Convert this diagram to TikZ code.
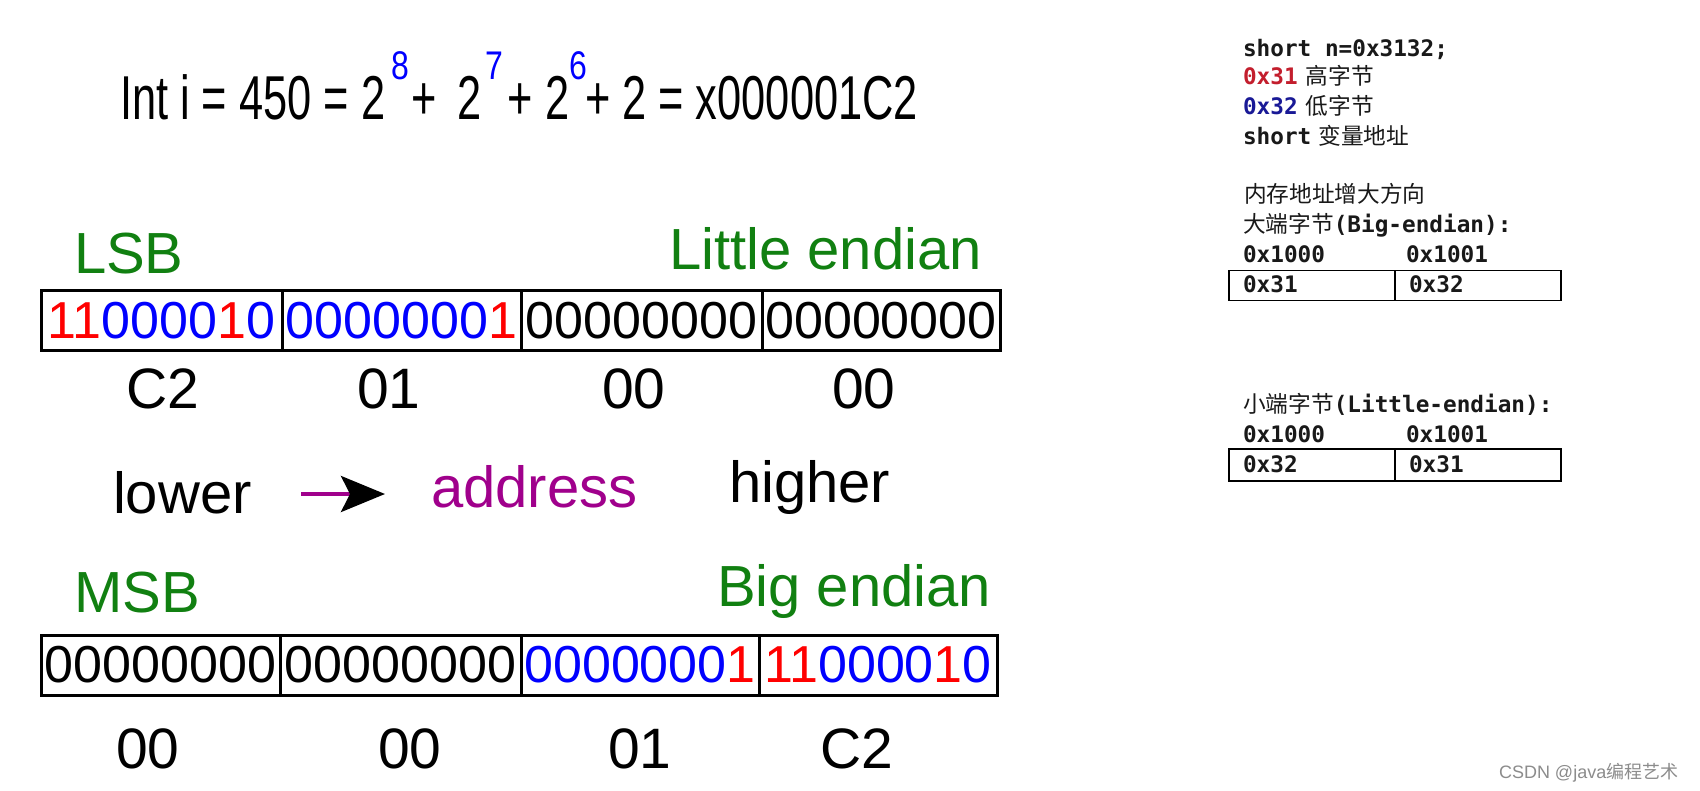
\documentclass[tikz,border=0pt]{standalone}
\usepackage{fontspec}
\usepackage{graphicx}
\setmainfont{Liberation Sans}
\newfontfamily\mono{DejaVu Sans Mono}
\newfontfamily\cjk{Noto Sans CJK SC}
\usetikzlibrary{arrows.meta}
\definecolor{grn}{RGB}{17,128,17}
\definecolor{pur}{RGB}{160,0,140}
\definecolor{rd}{RGB}{255,0,0}
\definecolor{bl}{RGB}{0,0,255}
\definecolor{dred}{RGB}{195,30,45}
\definecolor{dblue}{RGB}{25,25,150}
\newcommand\sx[2]{\scalebox{#1}[1]{#2}}
\tikzset{
  txt/.style={inner sep=0pt, outer sep=0pt, anchor=base west},
  ttl/.style={txt, font=\fontsize{62}{66}\selectfont},
  sup/.style={txt, font=\fontsize{40}{44}\selectfont, text=bl},
  big/.style={txt, font=\fontsize{58}{62}\selectfont},
  lab/.style={txt, font=\fontsize{58}{62}\selectfont, text=grn},
  hex/.style={txt, font=\fontsize{57}{62}\selectfont},
  cell/.style={draw, line width=3pt, inner sep=0pt, font=\fontsize{52}{56}\selectfont},
  code/.style={txt, font=\fontsize{22.7}{26}\selectfont\mono\bfseries, text={black!90}},
  tcell/.style={draw, line width=1.6pt, inner sep=0pt, minimum height=30pt},
}
\begin{document}
\begin{tikzpicture}[x=1pt,y=-1pt]
\useasboundingbox (0,0) rectangle (1700,791);
\fill[white] (0,0) rectangle (1700,791);

% title
\node[ttl] (t1) at (120,120) {\sx{0.7}{Int i = 450 = 2}};
\node[sup] (s8) at (391,80) {\sx{0.8}{8}};
\node[ttl] (t2) at (411,120) {\sx{0.7}{+}};
\node[ttl] (t3) at (457,120) {\sx{0.7}{2}};
\node[sup] (s7) at (485,80) {\sx{0.8}{7}};
\node[ttl] (t4) at (507,120) {\sx{0.7}{+}};
\node[ttl] (t5) at (545,120) {\sx{0.7}{2}};
\node[sup] (s6) at (569,80) {\sx{0.8}{6}};
\node[ttl] (t6) at (585,120) {\sx{0.7}{+ 2 = x000001C2}};

% little endian
\node[lab] (lsb) at (74,274) {LSB};
\node[lab] (le) at (669,270) {Little endian};
\node[cell, minimum width=241pt, minimum height=60pt] (L1) at (161.5,320.5) {\textcolor{rd}{11}\textcolor{bl}{0000}\textcolor{rd}{1}\textcolor{bl}{0}};
\node[cell, minimum width=239pt, minimum height=60pt] (L2) at (401.5,320.5) {\textcolor{bl}{0000000}\textcolor{rd}{1}};
\node[cell, minimum width=241pt, minimum height=60pt] (L3) at (641.5,320.5) {00000000};
\node[cell, minimum width=238pt, minimum height=60pt] (L4) at (881,320.5) {00000000};
\node[hex] (h1) at (126,408) {C2};
\node[hex] (h2) at (357,408) {01};
\node[hex] (h3) at (602,408) {00};
\node[hex] (h4) at (832,408) {00};

% address direction
\node[big] (lower) at (113,513) {lower};
\node[big, text=pur] (addr) at (431,507) {address};
\node[big] (higher) at (729,502) {higher};
\coordinate (a1) at (301,494);
\coordinate (a2) at (385,494);
\draw[pur, line width=4pt, -{Stealth[length=44pt, width=36pt, inset=9pt, color=black]}] (a1) -- (a2);

% big endian
\node[lab] (msb) at (74,612) {MSB};
\node[lab] (be) at (717,606) {Big endian};
\node[cell, minimum width=239pt, minimum height=60pt] (B1) at (160.5,665) {00000000};
\node[cell, minimum width=241pt, minimum height=60pt] (B2) at (400.5,665) {00000000};
\node[cell, minimum width=238pt, minimum height=60pt] (B3) at (640,665) {\textcolor{bl}{0000000}\textcolor{rd}{1}};
\node[cell, minimum width=238pt, minimum height=60pt] (B4) at (878,665) {\textcolor{rd}{11}\textcolor{bl}{0000}\textcolor{rd}{1}\textcolor{bl}{0}};
\node[hex] (g1) at (116,768) {00};
\node[hex] (g2) at (378,768) {00};
\node[hex] (g3) at (608,768) {01};
\node[hex] (g4) at (820,768) {C2};

% right panel
\node[code] (c1) at (1243,57) {short n=0x3132;};
\node[code] (c2) at (1243,85) {\textcolor{dred}{0x31}\hspace{8pt}{\cjk\mdseries 高字节}};
\node[code] (c3) at (1243,115) {\textcolor{dblue}{0x32}\hspace{8pt}{\cjk\mdseries 低字节}};
\node[code] (c4) at (1243,145) {short\hspace{7pt}{\cjk\mdseries 变量地址}};
\node[code] (c5) at (1244,203) {{\cjk\mdseries 内存地址增大方向}};
\node[code] (c6) at (1243,233) {{\cjk\mdseries 大端字节}(Big-endian):};
\node[code] (c7) at (1243,263) {0x1000};
\node[code] (c8) at (1406,263) {0x1001};
\node[tcell, minimum width=166pt] (T1) at (1312,285.5) {};
\node[tcell, minimum width=166pt] (T2) at (1478,285.5) {};
\node[code] (c9) at (1243,293) {0x31};
\node[code] (c10) at (1409,293) {0x32};

\node[code] (d1) at (1243,413) {{\cjk\mdseries 小端字节}(Little-endian):};
\node[code] (d2) at (1243,442) {0x1000};
\node[code] (d3) at (1406,442) {0x1001};
\node[tcell, minimum width=166pt, minimum height=32pt] (U1) at (1312,465) {};
\node[tcell, minimum width=166pt, minimum height=32pt] (U2) at (1478,465) {};
\node[code] (d4) at (1243,472) {0x32};
\node[code] (d5) at (1409,472) {0x31};

% watermark
\node[txt, font=\fontsize{18}{20}\selectfont, text=black!45] (wm) at (1499,778) {CSDN @java{\cjk 编程艺术}};
\end{tikzpicture}
\end{document}
